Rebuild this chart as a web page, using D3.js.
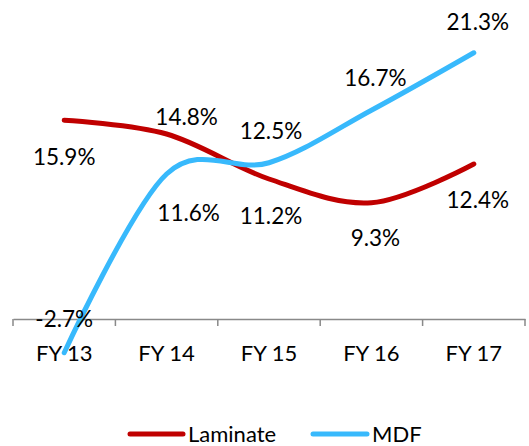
<!DOCTYPE html>
<html>
<head>
<meta charset="utf-8">
<script src="https://cdn.jsdelivr.net/npm/d3@7"></script>
<style>
  html, body { margin: 0; padding: 0; background: #fff; }
  svg text { font-family: "Lato", "Open Sans", sans-serif; fill: #000; }
</style>
</head>
<body>
<svg id="chart" width="529" height="446"></svg>
<script>
// ---- data ----
const categories = ["FY 13", "FY 14", "FY 15", "FY 16", "FY 17"];
const laminate = [15.9, 14.8, 11.2, 9.3, 12.4];
const mdf = [-2.7, 11.6, 12.5, 16.7, 21.3];
const seriesNames = ["Laminate", "MDF"];

// ---- label placement (pixels, centre offsets from point) ----
const laminateLabelDy = [37, -17, 37, 35, 36];
const laminateLabelDx = [0, 20, 2, 4, 4];
const mdfLabelDy = [-34, 39, -32, -32, -31];
const mdfLabelDx = [0, 22, 2, 4, 4];

const colors = { Laminate: "#C00000", MDF: "#38B9FC" };

const svg = d3.select("#chart");
const x = d3.scaleBand().domain(categories).range([13, 525]);
const y = d3.scaleLinear().domain([-5, 25]).range([381.5, 6.5]);
const cx = c => x(c) + x.bandwidth() / 2;

// x axis at zero
const axis = d3.axisBottom(x).tickSizeInner(0).tickSizeOuter(0).tickFormat("");
const axisG = svg.append("g").attr("transform", `translate(0,${y(0)})`).call(axis);
axisG.select(".domain").attr("stroke", "#898989").attr("stroke-width", 1.5);
// tick marks at band boundaries
const bounds = categories.map(c => x(c)).concat([x.range()[1]]);
axisG.selectAll("line.bound").data(bounds).enter().append("line")
  .attr("class", "bound")
  .attr("x1", d => d).attr("x2", d => d)
  .attr("y1", 0).attr("y2", 7)
  .attr("stroke", "#898989").attr("stroke-width", 1.5);

// category labels
svg.append("g").selectAll("text").data(categories).enter().append("text")
  .attr("x", d => cx(d))
  .attr("y", y(0) + 42)
  .attr("text-anchor", "middle")
  .attr("font-size", 22)
  .text(d => d);

const line = d3.line()
  .x((d, i) => cx(categories[i]))
  .y(d => y(d))
  .curve(d3.curveCardinal.tension(0));

const series = [
  { name: "Laminate", values: laminate, dy: laminateLabelDy, dx: laminateLabelDx },
  { name: "MDF", values: mdf, dy: mdfLabelDy, dx: mdfLabelDx }
];

series.forEach(s => {
  svg.append("path")
    .datum(s.values)
    .attr("d", line)
    .attr("fill", "none")
    .attr("stroke", colors[s.name])
    .attr("stroke-width", 5)
    .attr("stroke-linecap", "round")
    .attr("stroke-linejoin", "round");
});

series.forEach(s => {
  svg.append("g").selectAll("text").data(s.values).enter().append("text")
    .attr("x", (d, i) => cx(categories[i]) + s.dx[i])
    .attr("y", (d, i) => y(d) + s.dy[i])
    .attr("dy", "0.35em")
    .attr("text-anchor", "middle")
    .attr("font-size", 22.5)
    .text(d => d.toFixed(1) + "%");
});

// legend
const legendItems = [
  { name: seriesNames[0], x0: 130, x1: 183, tx: 188 },
  { name: seriesNames[1], x0: 313, x1: 367, tx: 372 }
];
const lg = svg.append("g");
legendItems.forEach(it => {
  lg.append("line")
    .attr("x1", it.x0).attr("x2", it.x1)
    .attr("y1", 434).attr("y2", 434)
    .attr("stroke", colors[it.name]).attr("stroke-width", 5)
    .attr("stroke-linecap", "round");
  lg.append("text")
    .attr("x", it.tx).attr("y", 441.5)
    .attr("font-size", 22)
    .text(it.name);
});
</script>
</body>
</html>
